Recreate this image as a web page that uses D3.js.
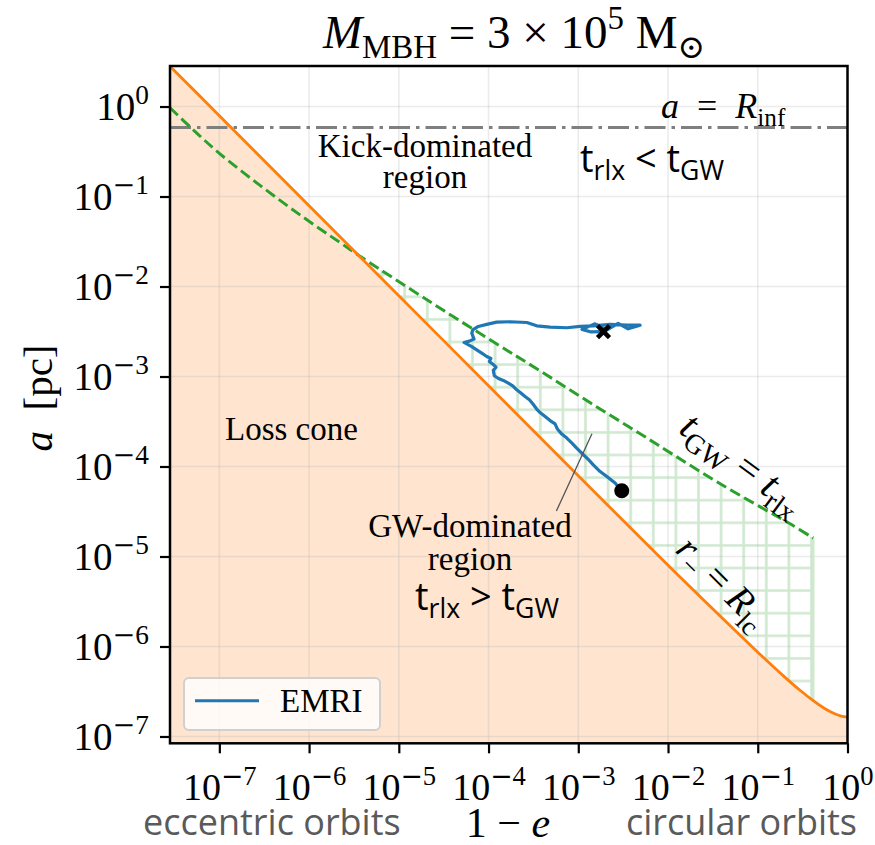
<!DOCTYPE html>
<html>
<head>
<meta charset="utf-8">
<script src="https://cdn.jsdelivr.net/npm/d3@7"></script>
<style>
body { margin: 0; background: #fff; }
svg { display: block; }
</style>
</head>
<body>
<script>
// loss cone boundary r_- = R_lc (orange)
var lossConeX = [2.82e-8, 1e-7, 1e-6, 1e-5, 1e-4, 1e-3, 1e-2, 0.03, 0.05, 0.1, 0.2, 0.3, 0.415, 0.55, 0.7, 0.85, 1.0];
var lossConeA = [2.8, 0.79, 0.079, 7.9e-3, 7.9e-4, 7.9e-5, 8.0e-6, 2.75e-6, 1.68e-6, 8.65e-7, 4.57e-7, 3.22e-7, 2.5e-7, 2.06e-7, 1.81e-7, 1.68e-7, 1.64e-7];

// t_GW = t_rlx (green dashed)
var relaxX = [2.82e-8, 5.12e-8, 1.0e-7, 2.84e-7, 7.92e-7, 2.21e-6, 3.89e-6, 2.23e-5, 1.13e-4, 3.75e-4, 1.36e-3, 4.89e-3, 1.15e-2, 3.5e-2, 0.116, 0.23, 0.415];
var relaxA = [0.968, 0.551, 0.302, 0.133, 0.0625, 0.0308, 0.0210, 6.76e-3, 2.43e-3, 1.156e-3, 5.1e-4, 2.31e-4, 1.35e-4, 6.76e-5, 3.39e-5, 2.31e-5, 1.6e-5];

// EMRI track, from the final point (dot) back to the start (cross)
var emriX = [3.05e-3, 2.57e-3, 2.08e-3, 1.75e-3, 1.47e-3, 1.30e-3, 1.14e-3, 9.6e-4, 8.5e-4, 7.45e-4,
             6.55e-4, 5.85e-4, 5.51e-4, 4.85e-4, 4.27e-4, 3.75e-4, 3.44e-4, 3.11e-4, 2.85e-4, 2.55e-4,
             2.29e-4, 2.06e-4, 1.86e-4, 1.66e-4, 1.46e-4, 1.29e-4, 1.16e-4, 1.13e-4, 1.21e-4, 1.11e-4,
             1.02e-4, 1.06e-4, 9.55e-5, 8.4e-5, 7.38e-5, 6.5e-5, 5.33e-5, 6.11e-5, 6.89e-5, 6.5e-5,
             6.67e-5, 7.69e-5, 9.55e-5, 1.23e-4, 1.74e-4, 2.67e-4, 3.44e-4, 4.85e-4, 7.45e-4, 1.05e-3,
             1.47e-3, 2.26e-3, 3.48e-3, 4.89e-3, 3.59e-3, 2.78e-3, 2.09e-3, 1.54e-3, 1.10e-3, 1.36e-3,
             1.91e-3];
var emriA = [5.37e-5, 6.55e-5, 7.74e-5, 8.79e-5, 1.045e-4, 1.19e-4, 1.35e-4, 1.60e-4, 1.82e-4, 2.07e-4,
             2.29e-4, 2.61e-4, 2.98e-4, 3.24e-4, 3.60e-4, 3.98e-4, 4.35e-4, 4.98e-4, 5.51e-4, 6.0e-4,
             6.55e-4, 7.11e-4, 7.89e-4, 8.45e-4, 9.04e-4, 9.5e-4, 1.02e-3, 1.17e-3, 1.27e-3, 1.38e-3,
             1.47e-3, 1.585e-3, 1.67e-3, 1.82e-3, 1.98e-3, 2.15e-3, 2.39e-3, 2.47e-3, 2.61e-3, 3.03e-3,
             3.30e-3, 3.60e-3, 3.79e-3, 4.02e-3, 4.06e-3, 3.98e-3, 3.66e-3, 3.54e-3, 3.48e-3, 3.60e-3,
             3.66e-3, 3.79e-3, 3.72e-3, 3.72e-3, 3.39e-3, 3.90e-3, 3.30e-3, 3.85e-3, 3.34e-3, 3.14e-3,
             3.16e-3];

var rInf = 0.585;                 // a = R_inf
var hatchStart = 3.89e-6, hatchEnd = 0.415;
var annotTip = [1.42e-3, 2.31e-4];
var annotTail = [5.7e-4, 3.2e-5];

var xTickExp = [-7, -6, -5, -4, -3, -2, -1, 0];
var yTickExp = [-7, -6, -5, -4, -3, -2, -1, 0];
var xDomain = [2.82e-8, 1];
var yDomain = [8.4e-8, 2.82];

var width = 875, height = 845;
var plotLeft = 170, plotRight = 847.5, plotTop = 66, plotBottom = 743.3;

var orange = "#ff7f0e", green = "#2ca02c", blue = "#1f77b4";
var serif = "'Liberation Serif', 'DejaVu Serif', serif";
var sans = "'Open Sans', 'Noto Sans', sans-serif";

var svg = d3.select("body").append("svg")
    .attr("width", width)
    .attr("height", height);

svg.append("rect").attr("width", width).attr("height", height).attr("fill", "#fff");

var x = d3.scaleLog().domain(xDomain).range([plotLeft, plotRight]);
var y = d3.scaleLog().domain(yDomain).range([plotBottom, plotTop]);

var defs = svg.append("defs");
defs.append("clipPath").attr("id", "plotclip")
  .append("rect").attr("x", plotLeft).attr("y", plotTop)
  .attr("width", plotRight - plotLeft).attr("height", plotBottom - plotTop);

var pat = defs.append("pattern").attr("id", "hatch")
    .attr("patternUnits", "userSpaceOnUse")
    .attr("width", 22.6).attr("height", 22.6)
    .attr("x", 9.2).attr("y", 14.3);
pat.append("path")
    .attr("d", "M0,11.3H22.6M11.3,0V22.6")
    .attr("stroke", "#cfe8cf").attr("stroke-width", 2.6).attr("fill", "none");

var lossCone = lossConeX.map(function(d, i) { return [d, lossConeA[i]]; });
var relax = relaxX.map(function(d, i) { return [d, relaxA[i]]; });
var emri = emriX.map(function(d, i) { return [d, emriA[i]]; });

var smooth = d3.curveCatmullRom.alpha(0.5);

var g = svg.append("g").attr("clip-path", "url(#plotclip)");

// GW-dominated region (hatched), then the loss cone drawn over it
var area = d3.area()
    .x(function(d) { return x(d[0]); })
    .y0(plotBottom)
    .y1(function(d) { return y(d[1]); })
    .curve(smooth);

g.append("path")
    .datum(relax.filter(function(d) { return d[0] >= hatchStart && d[0] <= hatchEnd; }))
    .attr("d", area)
    .attr("fill", "url(#hatch)");

g.append("path")
    .datum(lossCone)
    .attr("d", area)
    .attr("fill", "#ffe5cf");

// grid
g.selectAll(".gx").data(xTickExp).enter().append("line")
    .attr("x1", function(d) { return x(Math.pow(10, d)); })
    .attr("x2", function(d) { return x(Math.pow(10, d)); })
    .attr("y1", plotTop).attr("y2", plotBottom)
    .attr("stroke", "#b0b0b0").attr("stroke-opacity", 0.25).attr("stroke-width", 1.6);
g.selectAll(".gy").data(yTickExp).enter().append("line")
    .attr("y1", function(d) { return y(Math.pow(10, d)); })
    .attr("y2", function(d) { return y(Math.pow(10, d)); })
    .attr("x1", plotLeft).attr("x2", plotRight)
    .attr("stroke", "#b0b0b0").attr("stroke-opacity", 0.25).attr("stroke-width", 1.6);

// hatch edge
var edgeBottom = lossConeA[lossConeX.indexOf(hatchEnd)];
g.append("line")
    .attr("x1", x(hatchEnd)).attr("x2", x(hatchEnd))
    .attr("y1", y(relaxA[relaxA.length - 1])).attr("y2", y(edgeBottom))
    .attr("stroke", "#cfe8cf").attr("stroke-width", 2.6);

var line = d3.line()
    .x(function(d) { return x(d[0]); })
    .y(function(d) { return y(d[1]); });

g.append("line")
    .attr("x1", plotLeft).attr("x2", plotRight)
    .attr("y1", y(rInf)).attr("y2", y(rInf))
    .attr("stroke", "#7f7f7f").attr("stroke-width", 3)
    .attr("stroke-dasharray", "21,6,3.5,6");

g.append("path")
    .datum(relax)
    .attr("d", line.curve(smooth))
    .attr("fill", "none").attr("stroke", green).attr("stroke-width", 3)
    .attr("stroke-dasharray", "11,4.8");

g.append("path")
    .datum(lossCone)
    .attr("d", line.curve(smooth))
    .attr("fill", "none").attr("stroke", orange).attr("stroke-width", 2.8);

g.append("path")
    .datum(emri)
    .attr("d", line.curve(d3.curveLinear))
    .attr("fill", "none").attr("stroke", blue).attr("stroke-width", 3.2)
    .attr("stroke-linejoin", "round");

g.append("circle")
    .attr("cx", x(emriX[0])).attr("cy", y(emriA[0])).attr("r", 7.5)
    .attr("fill", "#000");

var last = emri.length - 1;
g.append("path")
    .attr("transform", "translate(" + x(emriX[last]) + "," + y(emriA[last]) + ")")
    .attr("d", "M-6,-6L6,6M-6,6L6,-6")
    .attr("stroke", "#000").attr("stroke-width", 4.5);

// annotation connector
svg.append("line")
    .attr("x1", x(annotTip[0])).attr("y1", y(annotTip[1]))
    .attr("x2", x(annotTail[0])).attr("y2", y(annotTail[1]))
    .attr("stroke", "#555").attr("stroke-width", 1.3);

// text with sub/superscripts
function rich(sel, parts, size) {
  var shift = 0;
  parts.forEach(function(p) {
    var target = p.sub ? size * 0.22 : (p.sup ? -size * 0.4 : 0);
    var ts = sel.append("tspan")
      .attr("dy", target - shift)
      .attr("font-size", (p.sub || p.sup) ? size * 0.7 : size)
      .attr("font-style", p.i ? "italic" : "normal")
      .text(p.t);
    if (p.font) ts.attr("font-family", p.font);
    shift = target;
  });
  return sel;
}

function label(xp, yp, parts, size, opts) {
  opts = opts || {};
  var t = svg.append("text")
    .attr("x", xp).attr("y", yp)
    .attr("font-family", opts.font || serif)
    .attr("font-size", size)
    .attr("fill", opts.color || "#000")
    .attr("text-anchor", opts.anchor || "start")
    .attr("xml:space", "preserve");
  if (opts.rotate != null) {
    t.attr("x", 0).attr("y", 0)
     .attr("transform", "translate(" + xp + "," + yp + ") rotate(" + opts.rotate + ")");
  }
  return rich(t, parts, size);
}

// power-of-ten tick label parts
function powParts(e) {
  var parts = [{t: "10"}];
  if (e < 0) parts.push({t: "−", sup: true, font: "'DejaVu Serif', serif"});
  parts.push({t: String(Math.abs(e)), sup: true});
  return parts;
}

// title
label(514, 48, [{t: "M", i: true}, {t: "MBH", sub: true}, {t: " = 3 × 10"}, {t: "5", sup: true}, {t: " M"}, {t: "⊙", sub: true}], 47, {anchor: "middle"});

// region texts
label(661, 118, [{t: "a", i: true}, {t: "  =  "}, {t: "R", i: true}, {t: "inf", sub: true}], 36);
label(425, 157, [{t: "Kick-dominated"}], 33, {anchor: "middle"});
label(425, 188, [{t: "region"}], 33, {anchor: "middle"});
label(580, 172, [{t: "t"}, {t: "rlx", sub: true}, {t: " < t"}, {t: "GW", sub: true}], 38, {font: sans});
label(225, 440, [{t: "Loss cone"}], 33);
label(470, 537, [{t: "GW-dominated"}], 33, {anchor: "middle"});
label(470, 570, [{t: "region"}], 33, {anchor: "middle"});
label(415, 610, [{t: "t"}, {t: "rlx", sub: true}, {t: " > t"}, {t: "GW", sub: true}], 38, {font: sans});
label(735, 474, [{t: "t", i: true}, {t: "GW", sub: true}, {t: " = "}, {t: "t", i: true}, {t: "rlx", sub: true}], 40, {anchor: "middle", rotate: 36.3});
label(714, 591, [{t: "r", i: true}, {t: "−", sub: true}, {t: " = "}, {t: "R", i: true}, {t: "lc", sub: true}], 38, {anchor: "middle", rotate: 45});

// frame
svg.append("rect")
    .attr("x", plotLeft).attr("y", plotTop)
    .attr("width", plotRight - plotLeft).attr("height", plotBottom - plotTop)
    .attr("fill", "none").attr("stroke", "#000").attr("stroke-width", 2.5);

// axes
var xAxis = svg.append("g")
    .attr("transform", "translate(0," + plotBottom + ")")
    .call(d3.axisBottom(x).tickValues(xTickExp.map(function(e) { return Math.pow(10, e); }))
      .tickSize(10).tickSizeOuter(0).tickFormat(""));
xAxis.select(".domain").remove();
xAxis.selectAll(".tick line").attr("stroke", "#000").attr("stroke-width", 2.2);
xAxis.selectAll(".tick").each(function(d, i) {
  var t = d3.select(this).append("text")
    .attr("y", 57).attr("x", 0)
    .attr("fill", "#000").attr("font-family", serif)
    .attr("text-anchor", "middle");
  rich(t, powParts(xTickExp[i]), 38);
});

var yAxis = svg.append("g")
    .attr("transform", "translate(" + plotLeft + ",0)")
    .call(d3.axisLeft(y).tickValues(yTickExp.map(function(e) { return Math.pow(10, e); }))
      .tickSize(10).tickSizeOuter(0).tickFormat(""));
yAxis.select(".domain").remove();
yAxis.selectAll(".tick line").attr("stroke", "#000").attr("stroke-width", 2.2);
yAxis.selectAll(".tick").each(function(d, i) {
  var t = d3.select(this).append("text")
    .attr("x", -21).attr("y", 13)
    .attr("fill", "#000").attr("font-family", serif)
    .attr("text-anchor", "end");
  rich(t, powParts(yTickExp[i]), 39);
});

// axis titles
label(52, 398, [{t: "a", i: true}, {t: "  [pc]"}], 41, {anchor: "middle", rotate: -90});
label(508, 837, [{t: "1 − "}, {t: "e", i: true}], 42, {anchor: "middle"});
label(143, 835, [{t: "eccentric orbits"}], 36, {font: sans, color: "#5a5a5a"});
label(857, 835, [{t: "circular orbits"}], 36, {font: sans, color: "#5a5a5a", anchor: "end"});

// legend
var lg = svg.append("g");
lg.append("rect")
    .attr("x", 184).attr("y", 678).attr("width", 196).attr("height", 52).attr("rx", 5)
    .attr("fill", "#fff").attr("fill-opacity", 0.8)
    .attr("stroke", "#d0d0d0").attr("stroke-width", 2);
lg.append("line")
    .attr("x1", 195).attr("x2", 259).attr("y1", 700.7).attr("y2", 700.7)
    .attr("stroke", blue).attr("stroke-width", 3);
lg.append("text")
    .attr("x", 280).attr("y", 712)
    .attr("font-family", serif).attr("font-size", 33)
    .text("EMRI");
</script>
</body>
</html>
